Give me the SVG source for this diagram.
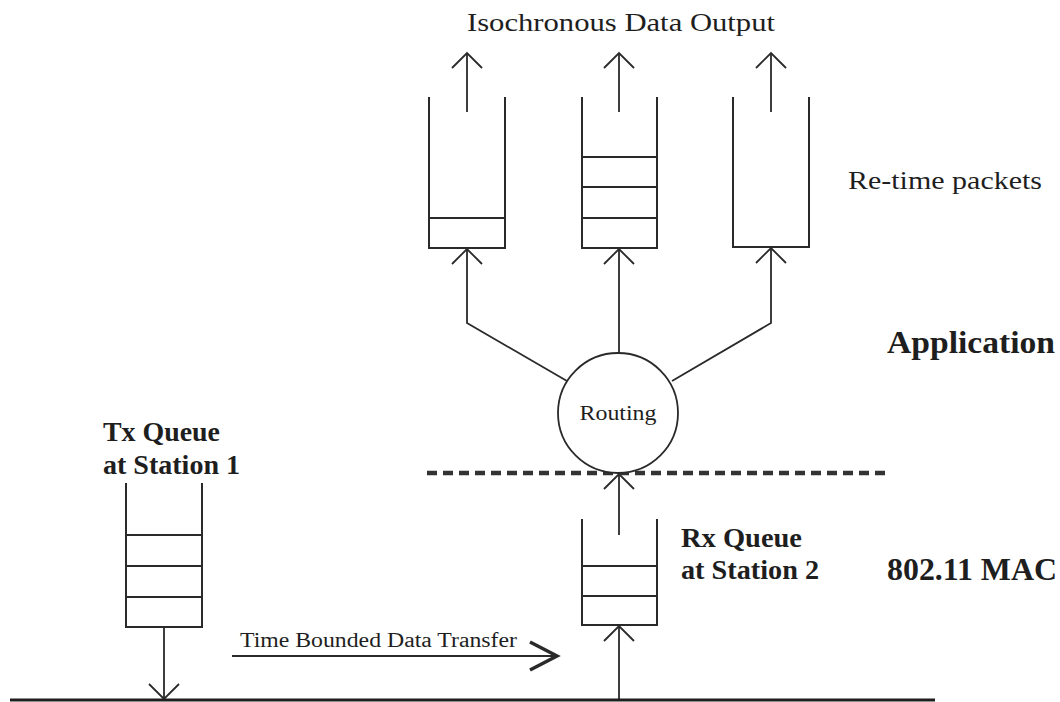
<svg xmlns="http://www.w3.org/2000/svg" width="1060" height="702" viewBox="0 0 1060 702">
<style>
.q{fill:none;stroke:#2a2a2a;stroke-width:2}
.c{fill:none;stroke:#2a2a2a;stroke-width:1.8}
.t{font-family:"Liberation Serif","Times New Roman",serif;fill:#1e1e1e}
.b{font-weight:bold}
</style>
<defs>
<marker id="open" viewBox="-20 -20 40 40" refX="0" refY="0" markerWidth="40" markerHeight="40" markerUnits="userSpaceOnUse" orient="auto" overflow="visible">
<path d="M-15,-15 L0,0 L-15,15" fill="none" stroke="#2a2a2a" stroke-width="1.8"/>
</marker>
</defs>
<rect width="1060" height="702" fill="#fff"/>

<g id="connectors">
<line class="c" x1="467" y1="112" x2="467" y2="53" marker-end="url(#open)"/>
<line class="c" x1="619" y1="112" x2="619" y2="53" marker-end="url(#open)"/>
<line class="c" x1="771" y1="112" x2="771" y2="53" marker-end="url(#open)"/>
<path class="c" d="M567,381 L467,323 L467,249" marker-end="url(#open)"/>
<path class="c" d="M619,353 L619,249" marker-end="url(#open)"/>
<path class="c" d="M672,381 L771,323 L771,248" marker-end="url(#open)"/>
<path class="c" d="M619,535 L619,474" marker-end="url(#open)"/>
<path class="c" d="M619,700 L619,626" marker-end="url(#open)"/>
<path class="c" d="M164,627 L164,699" marker-end="url(#open)"/>
<line x1="232" y1="656" x2="555" y2="656" stroke="#2a2a2a" stroke-width="2"/>
<polyline points="530,642 557,656 530,670" fill="none" stroke="#2a2a2a" stroke-width="3.5"/>
</g>

<g id="bus">
<line x1="10" y1="700" x2="935" y2="700" stroke="#1e1e1e" stroke-width="3"/>
</g>

<g id="layer-boundary">
<line x1="427" y1="473" x2="888" y2="473" stroke="#333" stroke-width="4.5" stroke-dasharray="10 6"/>
</g>

<g id="title">
<text class="t" x="467" y="31" font-size="26" textLength="308" lengthAdjust="spacingAndGlyphs">Isochronous Data Output</text>
</g>

<g id="queue-out-1">
<path class="q" d="M429,97 V248 H505 V97"/>
<line class="q" x1="429" y1="218" x2="505" y2="218"/>
</g>
<g id="queue-out-2">
<path class="q" d="M582,97 V248 H657 V97"/>
<line class="q" x1="582" y1="157" x2="657" y2="157"/>
<line class="q" x1="582" y1="187" x2="657" y2="187"/>
<line class="q" x1="582" y1="218" x2="657" y2="218"/>
</g>
<g id="queue-out-3">
<path class="q" d="M733,97 V247 H809 V97"/>
</g>

<g id="routing">
<circle cx="618" cy="413" r="60" fill="#fff" stroke="#2a2a2a" stroke-width="1.8"/>
<text class="t" x="618" y="420" font-size="21" text-anchor="middle" textLength="77" lengthAdjust="spacingAndGlyphs">Routing</text>
</g>

<g id="tx-queue">
<path class="q" d="M126,483 V627 H202 V483"/>
<line class="q" x1="126" y1="535" x2="202" y2="535"/>
<line class="q" x1="126" y1="566" x2="202" y2="566"/>
<line class="q" x1="126" y1="597" x2="202" y2="597"/>
<text class="t b" x="103" y="441" font-size="27" textLength="117" lengthAdjust="spacingAndGlyphs">Tx Queue</text>
<text class="t b" x="103" y="474" font-size="27" textLength="137" lengthAdjust="spacingAndGlyphs">at Station 1</text>
</g>

<g id="rx-queue">
<path class="q" d="M582,519 V625 H657 V519"/>
<line class="q" x1="582" y1="566" x2="657" y2="566"/>
<line class="q" x1="582" y1="596" x2="657" y2="596"/>
<text class="t b" x="681" y="547" font-size="27" textLength="121" lengthAdjust="spacingAndGlyphs">Rx Queue</text>
<text class="t b" x="681" y="579" font-size="27" textLength="138" lengthAdjust="spacingAndGlyphs">at Station 2</text>
</g>

<g id="transfer-label">
<text class="t" x="240" y="647" font-size="20" textLength="277" lengthAdjust="spacingAndGlyphs">Time Bounded Data Transfer</text>
</g>

<g id="retime-label">
<text class="t" x="848" y="189" font-size="26" textLength="194" lengthAdjust="spacingAndGlyphs">Re-time packets</text>
</g>
<g id="application-label">
<text class="t b" x="887" y="353" font-size="31" textLength="168" lengthAdjust="spacingAndGlyphs">Application</text>
</g>
<g id="mac-label">
<text class="t b" x="887" y="580" font-size="31" textLength="170" lengthAdjust="spacingAndGlyphs">802.11 MAC</text>
</g>
</svg>
